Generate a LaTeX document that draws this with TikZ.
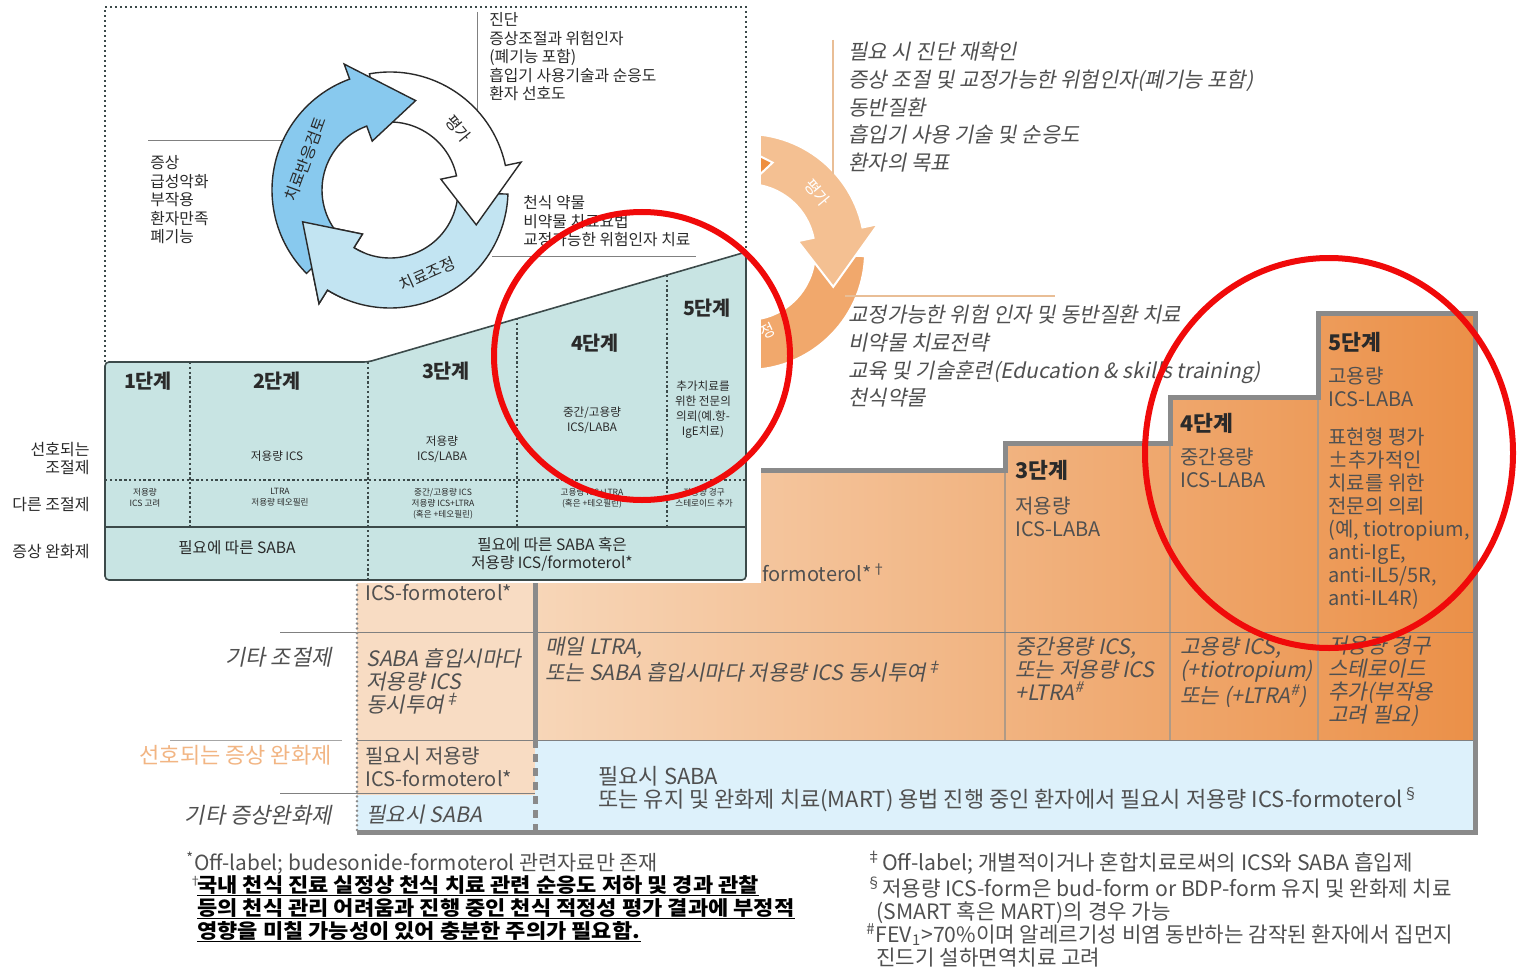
\documentclass[tikz,border=0pt]{standalone}
\usepackage{fontspec}
\setmainfont{Noto Sans CJK KR}
\newfontfamily\krit{Noto Sans CJK KR}[FakeSlant=0.2]
\newfontfamily\krwide{Noto Sans CJK KR}[FakeStretch=1.1]
\usetikzlibrary{calc}
\definecolor{tealbg}{HTML}{C8E4E3}
\definecolor{tealln}{HTML}{3C4A4A}
\definecolor{txd}{HTML}{2A2A2A}
\definecolor{txg}{HTML}{505050}
\definecolor{arrB}{HTML}{88C9EE}
\definecolor{arrC}{HTML}{C2E4F2}
\definecolor{ocA}{HTML}{F4C092}
\definecolor{ocB}{HTML}{F1A86C}
\definecolor{ocC}{HTML}{EE8F40}
\definecolor{oline}{HTML}{E9BE96}
\definecolor{peach}{HTML}{F8DCC3}
\definecolor{orL}{HTML}{F7D6B8}
\definecolor{orM}{HTML}{F3C59F}
\definecolor{orR}{HTML}{EB9048}
\definecolor{lblue}{HTML}{DDF1FB}
\definecolor{gborder}{HTML}{8A8A8A}
\definecolor{sepc}{HTML}{B09A86}
\definecolor{orlab}{HTML}{F2B583}
\definecolor{redc}{HTML}{F00A0A}
\newcommand{\ringarrow}[7]{%
  \path[#7] ($(#1)+(#4:#3)$) arc[start angle=#4, end angle=#5, radius=#3]
    -- ($(#1)+(#5:{#3+16})$) -- ($(#1)+(#6:{#2/2+#3/2})$) -- ($(#1)+(#5:{#2-16})$)
    -- ($(#1)+(#5:#2)$) arc[start angle=#5, end angle=#4, radius=#2] -- cycle;}
\tikzset{
 ctx/.style={inner sep=0, text=txd, font=\fontsize{7.9}{9.3}\selectfont, align=left, anchor=north west},
 steplab/.style={inner sep=0, text=txd, font=\bfseries\fontsize{9.8}{10}\selectfont},
 tsmall/.style={inner sep=0, text=txd, font=\fontsize{5.8}{7.5}\selectfont, align=center, anchor=north},
 ttiny/.style={inner sep=0, text=txd, font=\fontsize{4.3}{5.5}\selectfont, align=center, anchor=north},
 trel/.style={inner sep=0, text=txd, font=\fontsize{7.8}{9}\selectfont, align=center, anchor=north},
 tleft/.style={inner sep=0, text=txd, font=\fontsize{8}{9}\selectfont, align=right, anchor=north east},
 ringtxt/.style={inner sep=0, text=txd, font=\fontsize{8}{8}\selectfont},
 oit/.style={inner sep=0, text=txg, font=\krit\fontsize{10.5}{13.8}\selectfont, align=left, anchor=north west},
 ocell/.style={inner sep=0, text=txg, font=\fontsize{10}{11.5}\selectfont, align=left, anchor=north west},
 ocelli/.style={ocell, font=\krit\fontsize{10.6}{11.5}\selectfont},
 ostep/.style={inner sep=0, text=txd, font=\bfseries\fontsize{10.8}{11}\selectfont, anchor=west},
 olab/.style={inner sep=0, text=txg, font=\krit\fontsize{11}{11}\selectfont, anchor=east},
 fnote/.style={inner sep=0, text=txg, font=\fontsize{10.6}{11.5}\selectfont, align=left, anchor=north west},
 fbold/.style={inner sep=0, text=black, font=\krwide\bfseries\fontsize{10}{11.5}\selectfont, anchor=west},
 uline/.style={black, line width=0.7pt},
 tdot/.style={tealln, line width=0.7pt, dash pattern=on 1.2pt off 1.2pt},
 thinl/.style={gray, line width=0.5pt},
 ringW/.style={fill=white, draw=txd, line width=0.7pt},
 ringB/.style={fill=arrB, draw=txd, line width=0.7pt},
 ringC/.style={fill=arrC, draw=txd, line width=0.7pt},
 ocring/.style={draw=white, line width=1pt},
 gb/.style={gborder, line width=2.5pt},
}
\begin{document}
\begin{tikzpicture}[x=0.5pt,y=-0.5pt]
\useasboundingbox (0,0) rectangle (1519,968);
\fill[white] (0,0) rectangle (1519,968);

% ---------- orange cycle (background diagram) ----------
\coordinate (oc) at (747,252);
\ringarrow{oc}{68}{118}{2}{122}{160}{ocring, fill=ocB}
\ringarrow{oc}{68}{118}{-100}{-12}{22}{ocring, fill=ocA}
\ringarrow{oc}{68}{118}{135}{250}{286}{ocring, fill=ocC}
\begin{scope}
\clip ($(oc)+(112:10)$) -- ($(oc)+(112:150)$) -- ($(oc)+(140:175)$) -- ($(oc)+(168:150)$) -- ($(oc)+(168:10)$) -- cycle;
\ringarrow{oc}{68}{118}{2}{122}{160}{ocring, fill=ocB}
\end{scope}
\node[ringtxt, text=white, rotate=-50] (ocl1) at ($(oc)+(-40:92)$) {평가};
\node[ringtxt, text=white, rotate=25] (ocl2) at (768,331) {정};

% orange side texts
\draw[oline, line width=1.2pt] (833,40) -- (833,174);
\draw[oline, line width=1.2pt] (845,296) -- (1055,296);
\node[oit] (or1) at (848,42) {필요 시 진단 재확인\\증상 조절 및 교정가능한 위험인자(폐기능 포함)\\동반질환\\흡입기 사용 기술 및 순응도\\환자의 목표};
\node[oit] (or2) at (848,305) {교정가능한 위험 인자 및 동반질환 치료\\비약물 치료전략\\교육 및 기술훈련(Education \& skills training)\\천식약물};

% ---------- orange table ----------
\fill[peach] (357,470) rectangle (535,795);
\fill[lblue] (357,795) rectangle (535,832);
\shade[left color=orL, middle color=orM, right color=orR] (535,470) -- (1005,470) -- (1005,443) -- (1170,443) -- (1170,397) -- (1318,397) -- (1318,313) -- (1475,313) -- (1475,740) -- (535,740) -- cycle;
\fill[lblue] (535,740) rectangle (1475,832);
\draw[sepc, line width=0.6pt] (1005,443) -- (1005,740) (1170,397) -- (1170,740) (1318,313) -- (1318,740);
\draw[thinl] (280,632) -- (1475,632);
\draw[thinl, color=gray!70] (170,740) -- (342,740);
\draw[thinl] (357,740) -- (1475,740);
\draw[thinl] (280,793) -- (535,793);
\draw[gborder, line width=1.4pt, dash pattern=on 0pt off 2.4pt, line cap=round] (357,470) -- (357,832);
\draw[gb] (535,470) -- (535,740);
\draw[gb, dash pattern=on 4pt off 3pt] (535,740) -- (535,832);
\draw[gb, line join=miter] (535,470) -- (1005,470) -- (1005,443) -- (1170,443) -- (1170,397) -- (1318,397) -- (1318,313) -- (1475,313) -- (1475,832) -- (357,832);

% orange table texts
\node[ocell, anchor=west] (lc1) at (365,593) {ICS-formoterol*};
\node[ocelli] (lc2) at (366,648) {SABA 흡입시마다\\저용량 ICS\\동시투여\textsuperscript{‡}};
\node[ocell] (lc3) at (365,747) {필요시 저용량\\ICS-formoterol*};
\node[ocelli, anchor=west] (lc4) at (366,815) {필요시 SABA};
\node[olab] (lb1) at (332,657) {기타 조절제};
\node[olab, font=\fontsize{11}{11}\selectfont, text=orlab] (lb2) at (332,755) {선호되는 증상 완화제};
\node[olab] (lb3) at (332,815) {기타 증상완화제};

\node[ocell, anchor=west] (f12) at (762,573) {formoterol*\textsuperscript{†}};
\node[ostep] (o3) at (1015,470) {3단계};
\node[ocell] (o3a) at (1015,497) {저용량\\ICS-LABA};
\node[ostep] (o4) at (1180,423) {4단계};
\node[ocell] (o4a) at (1180,448) {중간용량\\ICS-LABA};
\node[ostep] (o5) at (1328,342) {5단계};
\node[ocell] (o5a) at (1328,367) {고용량\\ICS-LABA};
\node[ocell] (o5b) at (1328,427) {표현형 평가\\±추가적인\\치료를 위한\\전문의 의뢰\\(예, tiotropium,\\anti-IgE,\\anti-IL5/5R,\\anti-IL4R)};
\node[ocelli] (r12) at (545,637) {매일 LTRA,\\또는 SABA 흡입시마다 저용량 ICS 동시투여\textsuperscript{‡}};
\node[ocelli] (r3) at (1015,637) {중간용량 ICS,\\또는 저용량 ICS\\+LTRA\textsuperscript{\#}};
\node[ocelli] (r4) at (1180,637) {고용량 ICS,\\(+tiotropium)\\또는 (+LTRA\textsuperscript{\#})};
\node[ocelli] (r5) at (1328,636) {저용량 경구\\스테로이드\\추가(부작용\\고려 필요)};
\node[ocell, font=\fontsize{11}{11.5}\selectfont] (rl) at (598,766) {필요시 SABA\\또는 유지 및 완화제 치료(MART) 용법 진행 중인 환자에서 필요시 저용량 ICS-formoterol\textsuperscript{§}};

% footnotes
\node[fnote, font=\fontsize{10.4}{11.5}\selectfont] (fn1) at (186,851) {\textsuperscript{*}Off-label; budesonide-formoterol 관련자료만 존재};
\node[fnote, font=\fontsize{6}{7}\selectfont] (fn2m) at (189,876) {†};
\node[fbold] (fn2a) at (197,885) {국내 천식 진료 실정상 천식 치료 관련 순응도 저하 및 경과 관찰};
\node[fbold] (fn2b) at (197,908) {등의 천식 관리 어려움과 진행 중인 천식 적정성 평가 결과에 부정적};
\node[fbold] (fn2c) at (197,931) {영향을 미칠 가능성이 있어 충분한 주의가 필요함.};
\draw[uline] ([yshift=-1.6pt]fn2a.base west) -- ([yshift=-1.6pt]fn2a.base east);
\draw[uline] ([yshift=-1.6pt]fn2b.base west) -- ([yshift=-1.6pt]fn2b.base east);
\draw[uline] ([yshift=-1.6pt]fn2c.base west) -- ([yshift=-1.6pt]fn2c.base east);
\node[fnote] (fn3) at (866,851) {\textsuperscript{‡}Off-label; 개별적이거나 혼합치료로써의 ICS와 SABA 흡입제\\\textsuperscript{§}저용량 ICS-form은 bud-form or BDP-form 유지 및 완화제 치료\\\hspace*{5pt}(SMART 혹은 MART)의 경우 가능\\\textsuperscript{\#}FEV\textsubscript{1}>70\%이며 알레르기성 비염 동반하는 감작된 환자에서 집먼지\\\hspace*{5pt}진드기 설하면역치료 고려};

% ---------- overlay: Korean guideline ----------
\fill[white] (0,0) rectangle (761,583);
\draw[tealln, line width=0.6pt, dash pattern=on 1pt off 1.5pt] (105,362) -- (105,7) -- (746,7) -- (746,252);
\draw[thinl] (477,12) -- (477,110);
\draw[thinl] (148,141) -- (285,141);
\draw[thinl] (492,256) -- (696,256);

\coordinate (tc) at (390,190);
\ringarrow{tc}{68}{118}{2}{122}{160}{ringC}
\ringarrow{tc}{68}{118}{-100}{-12}{22}{ringW}
\ringarrow{tc}{68}{118}{135}{250}{286}{ringB}
\begin{scope}
\clip ($(tc)+(112:10)$) -- ($(tc)+(112:150)$) -- ($(tc)+(140:175)$) -- ($(tc)+(168:150)$) -- ($(tc)+(168:10)$) -- cycle;
\ringarrow{tc}{68}{118}{2}{122}{160}{ringC}
\end{scope}
\node[ringtxt, rotate=-50] (rl1) at ($(tc)+(-42:92)$) {평가};
\node[ringtxt, rotate=70] (rl2) at ($(tc)+(200:90)$) {치료반응검토};
\node[ringtxt, rotate=24] (rl3) at ($(tc)+(66:92)$) {치료조정};

\node[ctx] (q1) at (489,12) {진단\\증상조절과 위험인자\\(폐기능 포함)\\흡입기 사용기술과 순응도\\환자 선호도};
\node[ctx] (q2) at (150,155) {증상\\급성악화\\부작용\\환자만족\\폐기능};
\node[ctx] (q3) at (523,195) {천식 약물\\비약물 치료요법\\교정가능한 위험인자 치료};

% teal table
\draw[tealln, fill=tealbg, line width=0.8pt, rounded corners=2pt] (105,362) -- (368,362) -- (746,252) -- (746,580) -- (105,580) -- cycle;
\draw[tdot] (190,362) -- (190,527);
\draw[tdot] (368,362) -- (368,580);
\draw[tdot] (517,318) -- (517,527);
\draw[tdot] (667,275) -- (667,527);
\draw[tdot] (105,480) -- (746,480);
\draw[tealln, line width=0.7pt] (105,527) -- (746,527);

\node[steplab] (s1) at (148,381) {1단계};
\node[steplab] (s2) at (277,381) {2단계};
\node[steplab] (s3) at (446,371) {3단계};
\node[steplab] (s4) at (595,343) {4단계};
\node[steplab] (s5) at (707,308) {5단계};
\node[tsmall] (c2) at (277,451) {저용량 ICS};
\node[tsmall] (c3) at (442,436) {저용량\\ICS/LABA};
\node[tsmall] (c4) at (592,407) {중간/고용량\\ICS/LABA};
\node[tsmall] (c5) at (703,381) {추가치료를\\위한 전문의\\의뢰(예.항-\\IgE치료)};
\node[ttiny] (d1) at (145,488) {저용량\\ICS 고려};
\node[ttiny] (d2) at (280,488) {LTRA\\저용량 테오필린};
\node[ttiny] (d3) at (443,488) {중간/고용량 ICS\\저용량 ICS+LTRA\\(혹은 +테오필린)};
\node[ttiny] (d4) at (592,488) {고용량 ICS+LTRA\\(혹은 +테오필린)};
\node[ttiny] (d5) at (704,488) {저용량 경구\\스테로이드 추가};
\node[trel] (e1) at (237,540) {필요에 따른 SABA};
\node[trel] (e2) at (552,537) {필요에 따른 SABA 혹은\\저용량 ICS/formoterol*};
\node[tleft] (l1) at (90,442) {선호되는\\조절제};
\node[tleft, anchor=east] (l2) at (90,505) {다른 조절제};
\node[tleft, anchor=east] (l3) at (90,552) {증상 완화제};

% red circles
\draw[redc, line width=3pt] (642,356) ellipse [x radius=148, y radius=144];
\draw[redc, line width=3pt] (1329,453) ellipse [x radius=184, y radius=195];
\end{tikzpicture}
\end{document}
